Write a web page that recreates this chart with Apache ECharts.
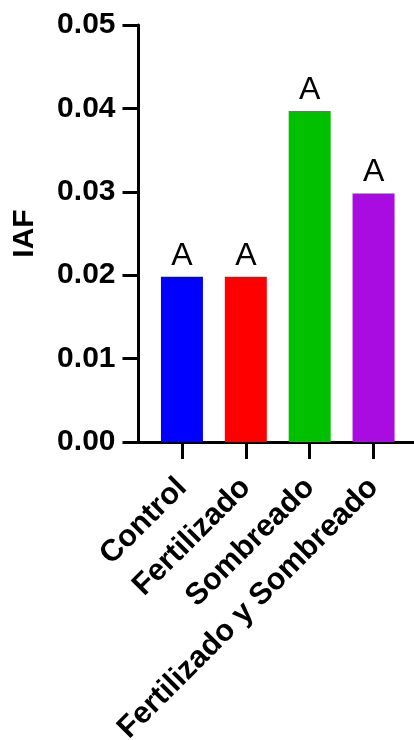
<!DOCTYPE html>
<html>
<head>
<meta charset="utf-8">
<script src="https://cdn.jsdelivr.net/npm/echarts@6/dist/echarts.min.js"></script>
<style>html,body{margin:0;padding:0;background:#fff;}#c{width:414px;height:740px;}</style>
</head>
<body>
<div id="c"></div>
<script>
const categories = ['Control', 'Fertilizado', 'Sombreado', 'Fertilizado y Sombreado'];
const values = [0.0198, 0.0198, 0.0397, 0.0298];
const letters = ['A', 'A', 'A', 'A'];
const colors = ['#0000ff', '#ff0000', '#00c000', '#a80ce0'];
const yTicks = [0, 0.01, 0.02, 0.03, 0.04, 0.05];

const FONT = '"Liberation Sans", Arial, Helvetica, sans-serif';
const chart = echarts.init(document.getElementById('c'), null, {renderer: 'canvas'});
chart.setOption({
  animation: false,
  backgroundColor: '#fff',
  grid: [
    {left: 138.5, right: 0, top: 25, height: 417, containLabel: false, outerBoundsMode: 'none'},
    {left: 150, width: 255.5, top: 25, height: 417, containLabel: false, outerBoundsMode: 'none'}
  ],
  xAxis: [
    {gridIndex: 0, type: 'value', min: 0, max: 1,
     axisLine: {show: true, lineStyle: {color: '#000', width: 3}},
     axisTick: {show: false}, axisLabel: {show: false}, splitLine: {show: false}},
    {gridIndex: 1, type: 'category', data: categories,
     axisLine: {show: false},
     axisTick: {show: true, alignWithLabel: true, length: 17, lineStyle: {color: '#000', width: 3}},
     axisLabel: {rotate: 45, margin: 41, interval: 0, color: '#000', fontFamily: FONT, fontWeight: 'bold', fontSize: 30.5},
     splitLine: {show: false}}
  ],
  yAxis: [
    {gridIndex: 0, type: 'value', min: yTicks[0], max: yTicks[yTicks.length - 1], interval: 0.01,
     name: 'IAF', nameLocation: 'middle', nameGap: 99, nameRotate: 90,
     nameTextStyle: {color: '#000', fontFamily: FONT, fontWeight: 'bold', fontSize: 30},
     axisLine: {show: true, lineStyle: {color: '#000', width: 3}},
     axisTick: {show: true, length: 16, lineStyle: {color: '#000', width: 3}},
     axisLabel: {margin: 23, color: '#000', fontFamily: FONT, fontWeight: 'bold', fontSize: 30,
       formatter: v => v.toFixed(2)},
     splitLine: {show: false}},
    {gridIndex: 1, type: 'value', min: yTicks[0], max: yTicks[yTicks.length - 1], show: false}
  ],
  series: [{
    type: 'bar', xAxisIndex: 1, yAxisIndex: 1, barWidth: 42,
    z: 1,
    data: values.map((v, i) => ({value: v, itemStyle: {color: colors[i]}})),
    label: {show: true, position: 'top', distance: 5, color: '#000', fontFamily: FONT, fontSize: 32,
      formatter: p => letters[p.dataIndex]}
  }]
});
</script>
</body>
</html>
